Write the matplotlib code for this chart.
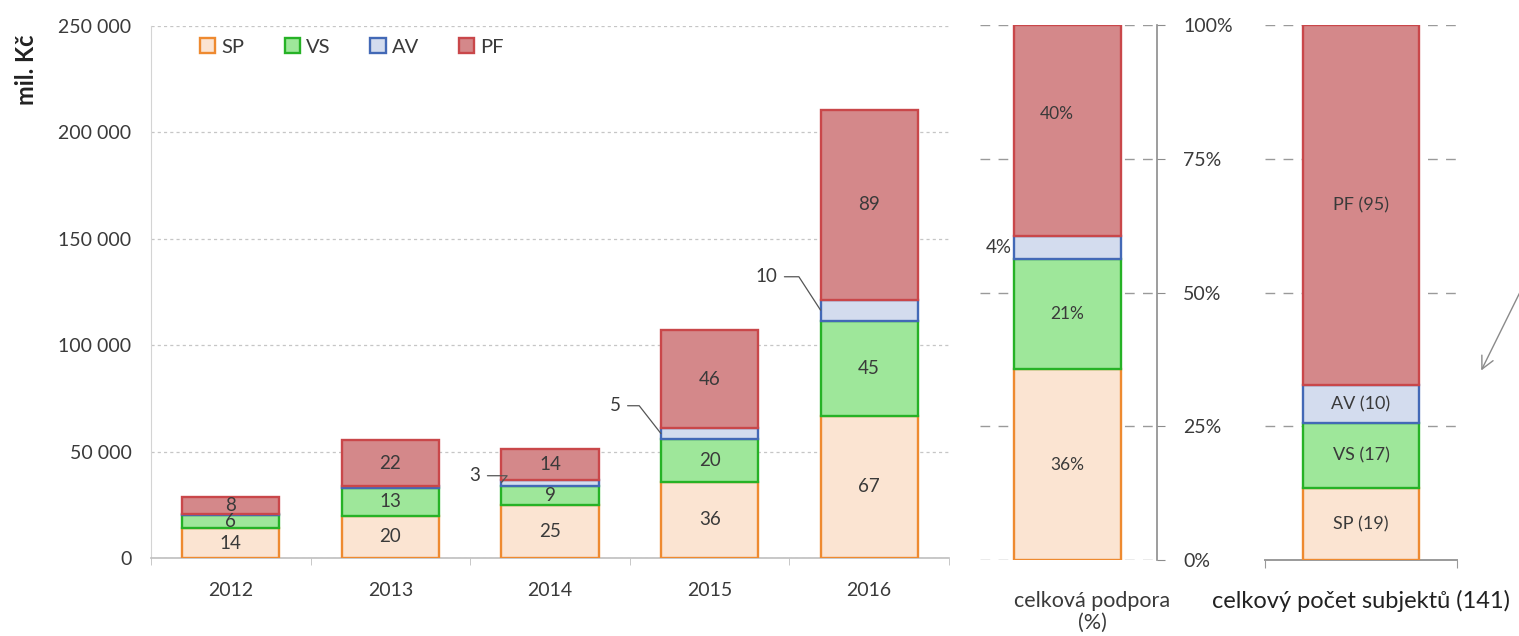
import matplotlib
matplotlib.use("Agg")
import matplotlib.pyplot as plt
from matplotlib.patches import Patch
from matplotlib.ticker import FuncFormatter, FixedLocator

plt.rcParams['font.family'] = ['Lato', 'DejaVu Sans']

# ---------------- data ----------------
years = ["2012", "2013", "2014", "2015", "2016"]
series = ["SP", "VS", "AV", "PF"]
sp = [14000, 19800, 24700, 35800, 66800]
vs = [6000, 13200, 9300, 20300, 44800]
av = [500, 600, 2800, 4800, 9800]
pf = [8300, 22000, 14300, 46300, 89200]

share_support = [35.7, 20.5, 4.4, 39.4]          # celková podpora (%)
share_labels = ["36%", "21%", "4%", "40%"]
subject_counts = [19, 17, 10, 95]                 # počet subjektů
subject_total = 141

y_ticks = [0, 50000, 100000, 150000, 200000, 250000]
pct_ticks = [0, 25, 50, 75, 100]

face = {"SP": "#FBE4D2", "VS": "#9EE79A", "AV": "#D3DCEE", "PF": "#D4888A"}
edge = {"SP": "#EE8A30", "VS": "#26B226", "AV": "#4369B6", "PF": "#C9474A"}
txt = "#3a3a3a"

W, H = 1519, 636
fig = plt.figure(figsize=(W / 100, H / 100), dpi=100)

def rect(x0, x1, y0, y1):
    return [x0 / W, 1 - y1 / H, (x1 - x0) / W, (y1 - y0) / H]

FS_TICK = 14
FS_BAR = 13.5

# ---------------- left panel ----------------
ax = fig.add_axes(rect(151, 949, 26, 558))
data = {"SP": sp, "VS": vs, "AV": av, "PF": pf}
xs = list(range(len(years)))
bw = 0.61
bottom = [0] * len(years)
bottoms = {}
for s in series:
    vals = data[s]
    ax.bar(xs, vals, bw, bottom=bottom, color=face[s], edgecolor=edge[s],
           linewidth=1.7, zorder=3)
    bottoms[s] = list(bottom)
    for i, v in enumerate(vals):
        if s != "AV":
            ax.text(i, bottom[i] + v / 2, f"{round(v / 1000)}", ha="center",
                    va="center", fontsize=FS_BAR, color=txt, zorder=5)
    bottom = [b + v for b, v in zip(bottom, vals)]

# outside labels for AV (2014-2016)
av_offsets = {2: (-15, 5), 3: (-29, 20), 4: (-31, 24)}
av_angles = {2: 50, 3: 128, 4: 123}
for i, (dx, dy) in av_offsets.items():
    ymid = bottoms["AV"][i] + av[i] / 2
    ax.annotate(f"{round(av[i] / 1000)}", xy=(i - bw / 2, ymid),
                xytext=(dx, dy), textcoords="offset points",
                ha="right", va="center", fontsize=FS_BAR, color=txt,
                arrowprops=dict(arrowstyle="-", color="#555555", lw=0.9,
                                relpos=(1, 0.5), shrinkA=3, shrinkB=0,
                                connectionstyle=f"angle,angleA=0,angleB={av_angles[i]},rad=0"),
                zorder=6)

ax.set_xlim(-0.5, len(years) - 0.5)
ax.set_ylim(0, 250000)
ax.set_xticks(xs)
ax.set_xticklabels(years, fontsize=FS_TICK, color=txt)
ax.xaxis.set_minor_locator(FixedLocator([i - 0.5 for i in range(len(years) + 1)]))
ax.tick_params(axis="x", which="major", length=0, pad=17)
ax.tick_params(axis="x", which="minor", length=5, color="#bfbfbf", direction="out")
ax.set_yticks(y_ticks)
ax.yaxis.set_major_formatter(FuncFormatter(lambda v, p: f"{int(v):,}".replace(",", " ")))
ax.tick_params(axis="y", length=0, pad=14, labelsize=FS_TICK, labelcolor=txt)
ax.grid(axis="y", color="#c6c6c6", linestyle=(0, (2.5, 2.5)), linewidth=0.9)
ax.set_axisbelow(True)
for sp_ in ["top", "right"]:
    ax.spines[sp_].set_visible(False)
ax.spines["left"].set_color("#d4d4d4")
ax.spines["bottom"].set_color("#bfbfbf")
ax.spines["bottom"].set_linewidth(1.2)

fig.text(27 / W, 1 - 70 / H, "mil. Kč", rotation=90, ha="center", va="center",
         fontsize=17, fontweight="bold", color="#222222")

handles = [Patch(facecolor=face[s], edgecolor=edge[s], linewidth=1.7, label=s) for s in series]
fig.legend(handles=handles, loc="center left", bbox_to_anchor=(182 / W, 1 - 47 / H),
           ncol=4, frameon=False, fontsize=14.5, handlelength=0.75, handleheight=0.75,
           handletextpad=0.3, columnspacing=2.0, labelcolor=txt)

# ---------------- middle panel ----------------
ax2 = fig.add_axes(rect(980, 1157, 25, 560))
b = 0
for s, v, lab in zip(series, share_support, share_labels):
    ax2.bar(0, v, 0.6, bottom=b, color=face[s], edgecolor=edge[s], linewidth=1.7, zorder=3)
    if s == "AV":
        ax2.text(-0.31, b + v / 2, lab, ha="right", va="center", fontsize=13.5, color=txt)
    elif s == "PF":
        ax2.text(-0.06, b + v / 2 + 3, lab, ha="center", va="center", fontsize=12.5, color=txt)
    else:
        ax2.text(0.0, b + v / 2, lab, ha="center", va="center", fontsize=12.5, color=txt)
    b += v
ax2.set_xlim(-0.49, 0.5)
ax2.set_ylim(0, 100)
ax2.set_xticks([])
ax2.set_yticks(pct_ticks)
ax2.yaxis.tick_right()
ax2.yaxis.set_major_formatter(FuncFormatter(lambda v, p: f"{int(v)}%"))
ax2.tick_params(axis="y", direction="out", length=6, color="#8c8c8c", pad=13,
                labelsize=FS_TICK, labelcolor=txt)
ax2.grid(axis="y", color="#9a9a9a", linestyle=(0, (7, 6)), linewidth=1.0)
ax2.set_axisbelow(True)
for sp_ in ["top", "left", "bottom"]:
    ax2.spines[sp_].set_visible(False)
ax2.spines["right"].set_color("#8c8c8c")
ax2.spines["right"].set_linewidth(1.2)
fig.text(1092 / W, 1 - 612 / H, "celková podpora\n(%)", ha="center", va="center",
         fontsize=15.5, color=txt, linespacing=1.1)

# ---------------- right panel ----------------
ax3 = fig.add_axes(rect(1265, 1457, 25, 560))
b = 0
for s, c in zip(series, subject_counts):
    v = c / subject_total * 100
    ax3.bar(0, v, 0.6, bottom=b, color=face[s], edgecolor=edge[s], linewidth=1.7, zorder=3)
    ax3.text(0, b + v / 2, f"{s} ({c})", ha="center", va="center", fontsize=13, color=txt)
    b += v
ax3.set_xlim(-0.5, 0.5)
ax3.set_ylim(0, 100)
ax3.set_yticks(pct_ticks)
ax3.tick_params(axis="y", length=0, labelleft=False)
ax3.set_xticks([-0.5, 0.5])
ax3.set_xticklabels([])
ax3.tick_params(axis="x", direction="out", length=6, color="#9a9a9a")
ax3.grid(axis="y", color="#9a9a9a", linestyle=(0, (7, 6)), linewidth=1.0)
ax3.set_axisbelow(True)
for sp_ in ["top", "left", "right"]:
    ax3.spines[sp_].set_visible(False)
ax3.spines["bottom"].set_color("#9a9a9a")
ax3.spines["bottom"].set_linewidth(1.4)
fig.text(1361 / W, 1 - 601 / H, f"celkový počet subjektů ({subject_total})", ha="center",
         va="center", fontsize=17, color="#222222")

# arrow on the right edge
ax3.annotate("", xy=(1480 / W, 1 - 373 / H), xycoords="figure fraction",
             xytext=(1527 / W, 1 - 278 / H), textcoords="figure fraction",
             arrowprops=dict(arrowstyle="->,head_length=0.9,head_width=0.45",
                             color="#8a8a8a", lw=1.0), annotation_clip=False)

fig.savefig("out.png", dpi=100)
